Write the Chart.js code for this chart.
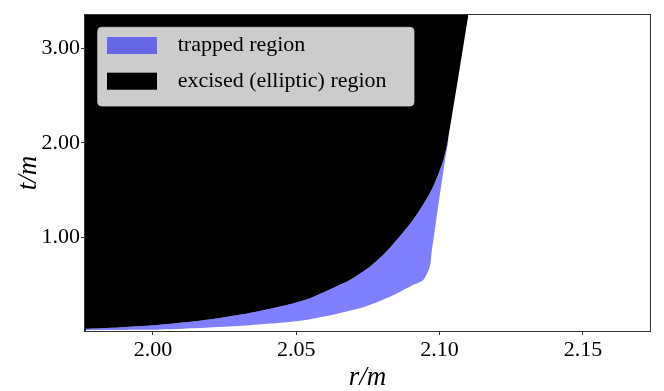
<!DOCTYPE html>
<html>
<head>
<meta charset="utf-8">
<script src="https://cdn.jsdelivr.net/npm/chart.js@4/dist/chart.umd.min.js"></script>
<style>
  html, body { margin: 0; padding: 0; background: #ffffff; }
  #wrap { width: 664px; height: 391px; position: relative; }
</style>
</head>
<body>
<div id="wrap"><canvas id="c" width="664" height="391"></canvas></div>
<script>
// ---- data ----
const seriesLabels = ['trapped region', 'excised (elliptic) region'];
// outer boundary of the trapped region (r/m, t/m)
const trappedR = [1.9763, 1.9990, 2.0106, 2.0222, 2.0338, 2.0455, 2.0548, 2.0722, 2.0827, 2.0907, 2.0943, 2.0966, 2.0972, 2.0995, 2.1019, 2.1031];
const trappedT = [0.020, 0.022, 0.033, 0.051, 0.072, 0.099, 0.135, 0.251, 0.373, 0.497, 0.550, 0.690, 0.834, 1.323, 1.815, 2.026];
// boundary of the excised (elliptic) region (r/m, t/m)
const excisedR = [1.9763, 1.9880, 1.9990, 2.0106, 2.0222, 2.0338, 2.0455, 2.0548, 2.0652, 2.0687, 2.0757, 2.0820, 2.0907, 2.0972, 2.1013, 2.1029, 2.1100];
const excisedT = [0.033, 0.048, 0.0675, 0.099, 0.142, 0.199, 0.276, 0.357, 0.499, 0.550, 0.690, 0.866, 1.182, 1.499, 1.815, 2.026, 3.345];
const xTicks = [2.00, 2.05, 2.10, 2.15];
const yTicks = [1.00, 2.00, 3.00];
const xRange = [1.9763, 2.1734];
const yRange = [0.01, 3.35];

const toPts = (xs, ys) => xs.map((x, i) => ({x: x, y: ys[i]}));

const SERIF = '"Liberation Serif", "DejaVu Serif", serif';
const trappedColor = 'rgba(0,0,255,0.5)';
const excisedColor = '#000000';

const insideLegend = {
  id: 'insideLegend',
  afterDatasetsDraw(chart) {
    const ctx = chart.ctx;
    const a = chart.chartArea;
    const x0 = a.left + 12.7, y0 = a.top + 12.3, w = 316.3, h = 78.7, r = 4;
    ctx.save();
    ctx.beginPath();
    ctx.roundRect(x0, y0, w, h, r);
    ctx.fillStyle = 'rgba(255,255,255,0.8)';
    ctx.fill();
    ctx.lineWidth = 1;
    ctx.strokeStyle = 'rgba(204,204,204,0.8)';
    ctx.stroke();
    const colors = [trappedColor, excisedColor];
    const rowY = [y0 + 9.7, y0 + 45.4];
    ctx.font = '22px ' + SERIF;
    ctx.textBaseline = 'middle';
    ctx.textAlign = 'left';
    for (let i = 0; i < seriesLabels.length; i++) {
      ctx.fillStyle = colors[i];
      ctx.fillRect(x0 + 9.3, rowY[i], 50, 17);
      ctx.fillStyle = '#000';
      ctx.fillText(seriesLabels[i], x0 + 80, rowY[i] + 8.5);
    }
    ctx.restore();
  }
};

new Chart(document.getElementById('c'), {
  type: 'scatter',
  data: {
    datasets: [
      {
        label: seriesLabels[0],
        data: toPts(trappedR, trappedT),
        showLine: true,
        pointRadius: 0,
        borderWidth: 0,
        borderColor: trappedColor,
        backgroundColor: trappedColor,
        tension: 0.25,
        fill: 1
      },
      {
        label: seriesLabels[1],
        data: toPts(excisedR, excisedT),
        showLine: true,
        pointRadius: 0,
        borderWidth: 0,
        borderColor: excisedColor,
        backgroundColor: excisedColor,
        tension: 0.25,
        fill: 'end'
      }
    ]
  },
  options: {
    responsive: false,
    animation: false,
    events: [],
    layout: { padding: { left: 0, right: 14, top: 15, bottom: 0 } },
    plugins: { legend: { display: false }, tooltip: { enabled: false } },
    scales: {
      x: {
        type: 'linear',
        min: xRange[0], max: xRange[1],
        afterFit(s) { s.height = 60; },
        afterBuildTicks(s) { s.ticks = xTicks.map(v => ({value: v})); },
        grid: { drawOnChartArea: false, drawTicks: true, tickLength: 4, color: '#333' },
        border: { display: true, color: '#333', width: 1 },
        ticks: { color: '#000', font: { family: SERIF, size: 22 }, padding: 2, maxRotation: 0,
                 callback: v => Number(v).toFixed(2) },
        title: { display: true, text: 'r/m', color: '#000', padding: 0,
                 font: { family: SERIF, size: 27, style: 'italic', lineHeight: 1 } }
      },
      y: {
        type: 'linear',
        min: yRange[0], max: yRange[1],
        afterFit(s) { s.width = 85; },
        afterBuildTicks(s) { s.ticks = yTicks.map(v => ({value: v})); },
        grid: { drawOnChartArea: false, drawTicks: true, tickLength: 4, color: '#333' },
        border: { display: true, color: '#333', width: 1 },
        ticks: { color: '#000', font: { family: SERIF, size: 22 }, padding: 1,
                 callback: v => Number(v).toFixed(2) },
        title: { display: true, text: 't/m', color: '#000', padding: { top: 15, bottom: 0 },
                 font: { family: SERIF, size: 27, style: 'italic', lineHeight: 1 } }
      }
    }
  },
  plugins: [insideLegend, {
    id: 'frame',
    afterDraw(chart) {
      const a = chart.chartArea, ctx = chart.ctx;
      ctx.save();
      ctx.strokeStyle = '#333';
      ctx.lineWidth = 1;
      ctx.strokeRect(Math.round(a.left) - 0.5, Math.round(a.top) - 0.5, Math.round(a.right - a.left) + 1, Math.round(a.bottom - a.top) + 1);
      ctx.restore();
    }
  }]
});
</script>
</body>
</html>
